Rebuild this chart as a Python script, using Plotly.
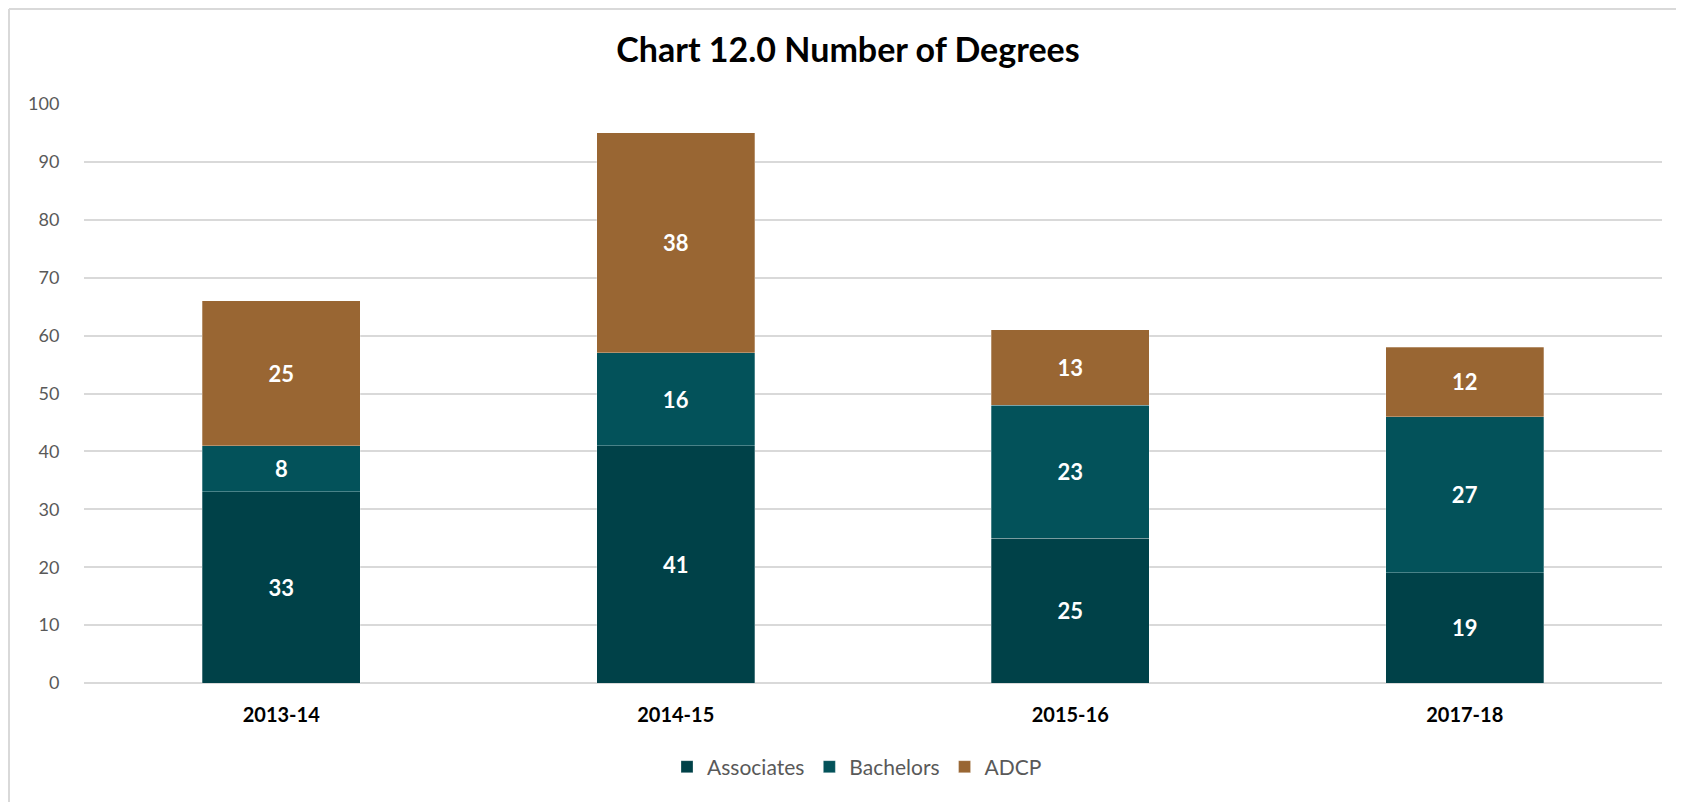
import plotly.graph_objects as go

years = ["2013-14", "2014-15", "2015-16", "2017-18"]
associates = [33, 41, 25, 19]
bachelors = [8, 16, 23, 27]
adcp = [25, 38, 13, 12]

series = [
    ("Associates", associates, "#004148"),
    ("Bachelors", bachelors, "#03525A"),
    ("ADCP", adcp, "#996633"),
]

FONT = "Lato, 'Open Sans', sans-serif"

# page body has an 8px margin; compensate
W, H = 1676, 794
L, R, T, B = 76, 22, 96, 119
PW, PH = W - L - R, H - T - B

fig = go.Figure()
for name, vals, color in series:
    fig.add_trace(go.Bar(
        x=years, y=vals, name=name,
        marker=dict(color=color, line=dict(color="rgba(255,255,255,0.35)", width=0.8)),
        text=[str(v) for v in vals],
        textposition="inside",
        insidetextanchor="middle",
        textfont=dict(color="white", size=22, family=FONT, weight="bold"),
        cliponaxis=False,
    ))

def py(full_y):  # full-page y -> paper fraction
    return 1 - (full_y - 8 - T) / PH

def px(full_x):
    return (full_x - 8 - L) / PW

fig.update_layout(
    barmode="stack",
    bargap=0.6,
    width=W, height=H,
    paper_bgcolor="white", plot_bgcolor="white",
    margin=dict(l=L, r=R, t=T, b=B),
    font=dict(family=FONT),
    title=dict(text="<b>Chart 12.0 Number of Degrees</b>", x=(848 - 8) / W, xanchor="center",
               y=1 - (50 - 8) / H, yanchor="middle",
               font=dict(size=34, color="black", family=FONT)),
    legend=dict(orientation="h", x=px(857), xanchor="center", y=py(767), yanchor="middle",
                traceorder="normal", font=dict(size=21, color="#595959"),
                itemwidth=30),
    showlegend=True,
)
fig.update_yaxes(range=[0, 100], dtick=10, showgrid=True, gridcolor="#D9D9D9", gridwidth=1.5,
                 zeroline=True, zerolinecolor="#D9D9D9", zerolinewidth=1.5,
                 tickfont=dict(size=18, color="#595959"),
                 ticks="outside", ticklen=20, tickcolor="rgba(0,0,0,0)", showline=False)
fig.update_xaxes(tickfont=dict(size=20, color="black", family=FONT, weight="bold"),
                 ticks="outside", ticklen=14, tickcolor="rgba(0,0,0,0)", showline=False)

# chart border (left & top visible), placed at the div's top-left edge
fig.add_shape(type="line", xref="paper", yref="paper",
              x0=px(9), x1=px(9), y0=py(9), y1=py(820),
              line=dict(color="#D9D9D9", width=2))
fig.add_shape(type="line", xref="paper", yref="paper",
              x0=px(9), x1=px(1700), y0=py(9), y1=py(9),
              line=dict(color="#D9D9D9", width=2))

fig.write_html("out.html")
